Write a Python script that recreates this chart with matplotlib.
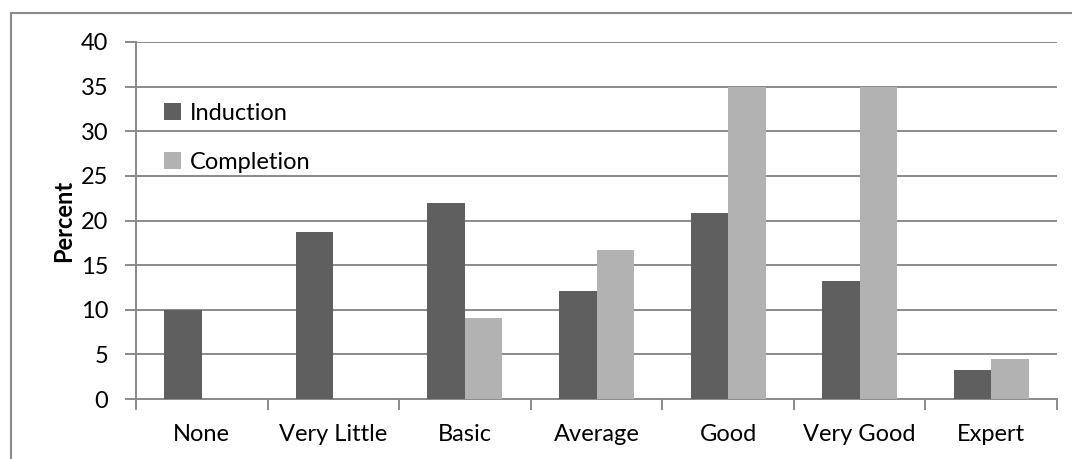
import numpy as np
import matplotlib.pyplot as plt
from matplotlib.patches import Rectangle

plt.rcParams['font.family'] = ['Lato', 'DejaVu Sans']

# survey levels and percentages for the two stages
levels = ['None', 'Very Little', 'Basic', 'Average', 'Good', 'Very Good', 'Expert']
induction = [10.0, 18.7, 22.0, 12.1, 20.8, 13.2, 3.3]
completion = [0, 0, 9.1, 16.7, 35.0, 35.0, 4.5]

dark = '#5f5f5f'
light = '#b2b2b2'
grid_col = '#8a8a8a'
fs = 17

fig = plt.figure(figsize=(10.72, 4.59), dpi=100)
ax = fig.add_axes([136/1072, 1 - 399/459, (1057 - 136)/1072, (399 - 42)/459])

x = np.arange(len(levels))
w = 0.285
ax.bar(x - w/2, induction, w, color=dark, label='Induction', zorder=3)
ax.bar(x + w/2, completion, w, color=light, label='Completion', zorder=3)

ax.set_xlim(-0.5, len(levels) - 0.5)
ax.set_ylim(0, 40)
ax.set_yticks(np.arange(0, 41, 5))
ax.yaxis.grid(True, color=grid_col, linewidth=1.4, zorder=0)

# category labels centred, tick marks at the boundaries
ax.set_xticks(x)
ax.set_xticklabels(levels, fontsize=fs)
ax.set_xticks(np.arange(-0.5, len(levels)), minor=True)
ax.tick_params(axis='x', which='major', length=0, pad=18)
ax.tick_params(axis='x', which='minor', length=8, width=1.4, color=grid_col)
ax.tick_params(axis='y', length=8, width=1.4, color=grid_col, labelsize=fs, pad=12)

for s in ['top', 'right']:
    ax.spines[s].set_visible(False)
for s in ['left', 'bottom']:
    ax.spines[s].set_color(grid_col)
    ax.spines[s].set_linewidth(1.4)

ax.set_ylabel('Percent', fontsize=fs, fontweight='bold', labelpad=4)

ax.legend(loc='upper left', bbox_to_anchor=(0.007, 0.89), frameon=False,
          fontsize=fs, handlelength=0.75, handleheight=0.75, handletextpad=0.35,
          labelspacing=1.2)

# outer chart frame
fig.patches.append(Rectangle((10.5/1072, -0.1), 1.2, (459 - 13)/459 + 0.1,
                             transform=fig.transFigure, fill=False,
                             edgecolor=grid_col, linewidth=1.5))

fig.savefig('out.png', dpi=100)
